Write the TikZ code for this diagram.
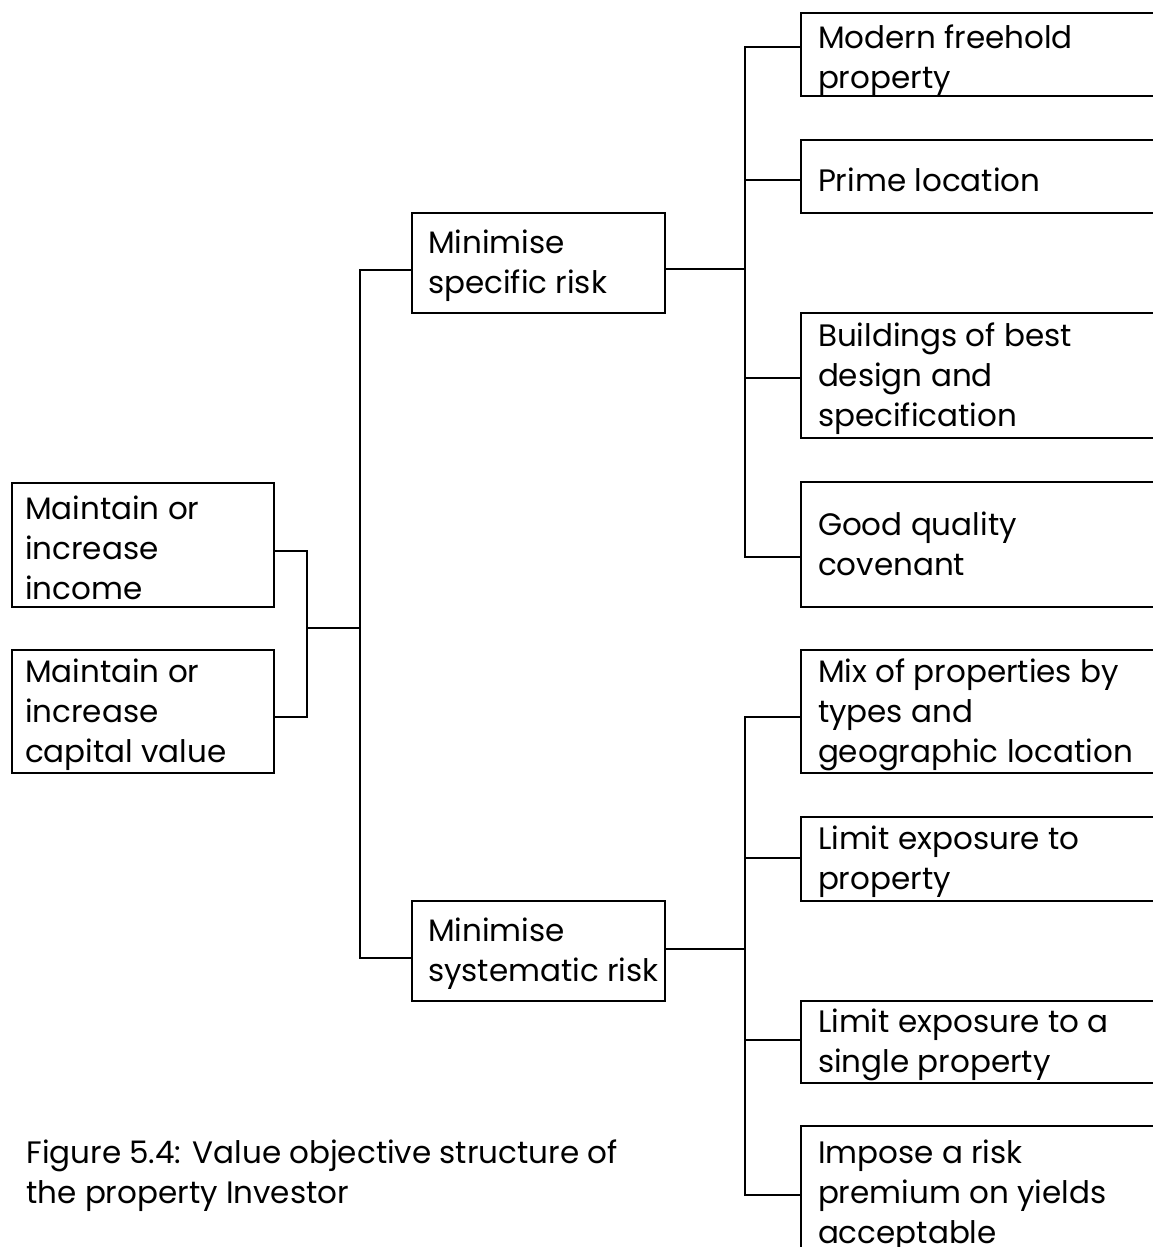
\documentclass[tikz,border=0pt]{standalone}
\usepackage{fontspec}
\setmainfont{Poppins}
\begin{document}
\begin{tikzpicture}[x=1pt,y=-1pt,
  line width=2.8pt,
  txt/.style={font=\fontsize{31}{40}\selectfont, align=left, inner sep=0pt, anchor=west, yshift=-3pt},
  box/.style={draw, inner sep=0pt},
  lbox/.style={box, minimum width=262pt, minimum height=124pt},
  mbox/.style={box, minimum width=253pt, minimum height=100pt},
  rbox/.style={box, minimum width=400pt},
  ltext/.style={label={[txt, xshift=13pt]west:{#1}}},
  mtext/.style={label={[txt, xshift=16pt]west:{#1}}},
  rtext/.style={label={[txt, xshift=17pt]west:{#1}}},
  ]
\useasboundingbox (0,0) rectangle (1153,1247);
\fill[white] (0,0) rectangle (1153,1247);

% top-level objectives
\node[lbox, ltext={Maintain or\\increase\\income}] (inc) at (143,545) {};
\node[lbox, minimum height=123pt, ltext={Maintain or\\increase\\capital value}] (cap) at (143,711.5) {};

% intermediate objectives
\node[mbox, mtext={Minimise\\specific risk}] (spec) at (538.5,263) {};
\node[mbox, mtext={Minimise\\systematic risk}] (sys) at (538.5,951) {};

% means objectives
\node[rbox, minimum height=83pt, label={[txt, xshift=17pt, yshift=-3pt]west:{Modern freehold\\property}}] (mod) at (1001,54.5) {};
\node[rbox, minimum height=73pt, rtext={Prime location}] (prime) at (1001,176.5) {};
\node[rbox, minimum height=125pt, rtext={Buildings of best\\design and\\specification}] (build) at (1001,375.5) {};
\node[rbox, minimum height=125pt, label={[txt, xshift=17pt, yshift=4pt]west:{Good quality\\covenant}}] (good) at (1001,544.5) {};
\node[rbox, minimum height=123pt, rtext={Mix of properties by\\types and\\geographic location}] (mix) at (1001,711.5) {};
\node[rbox, minimum height=84pt, rtext={Limit exposure to\\property}] (lim1) at (1001,859) {};
\node[rbox, minimum height=82pt, rtext={Limit exposure to a\\single property}] (lim2) at (1001,1042) {};
\node[rbox, minimum height=124pt, label={[txt, xshift=17pt, yshift=-5pt]west:{Impose a risk\\premium on yields\\acceptable}}] (imp) at (1001,1188) {};

% junction points
\coordinate (j1) at (307,628);
\coordinate (t1) at (360,628);
\coordinate (t2) at (745,269);
\coordinate (t3) at (745,949);

% connectors
\draw ([yshift=-6pt]inc.east) -| (j1) |- ([yshift=-5.5pt]cap.east);
\draw (j1) -- (t1);
\draw ([yshift=-7pt]spec.west) -| (t1) |- ([yshift=-7pt]sys.west);

\draw ([yshift=-6pt]spec.east) -- (t2);
\draw ([yshift=7.5pt]mod.west) -| (t2) |- ([yshift=-12.5pt]good.west);
\draw ([yshift=-3.5pt]prime.west) -- ([yshift=-3.5pt]prime.west -| t2);
\draw ([yshift=-2.5pt]build.west) -- ([yshift=-2.5pt]build.west -| t2);

\draw ([yshift=2pt]sys.east) -- (t3);
\draw ([yshift=-5.5pt]mix.west) -| (t3) |- ([yshift=-7pt]imp.west);
\draw ([yshift=1pt]lim1.west) -- ([yshift=1pt]lim1.west -| t3);
\draw ([yshift=2pt]lim2.west) -- ([yshift=2pt]lim2.west -| t3);

% caption
\node[font=\fontsize{31}{40}\selectfont, align=left, inner sep=0pt, anchor=north west] (fig) at (25,1138)
  {Figure 5.4: Value objective structure of\\the property Investor};
\end{tikzpicture}
\end{document}
